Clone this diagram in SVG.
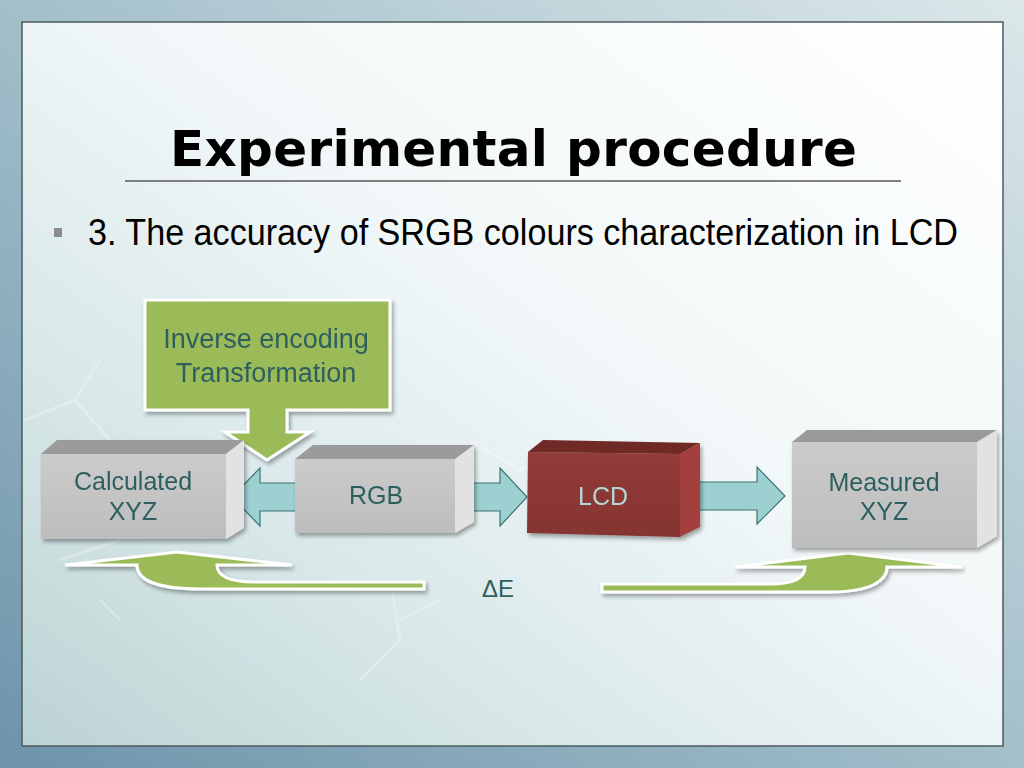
<svg xmlns="http://www.w3.org/2000/svg" width="1024" height="768" viewBox="0 0 1024 768">
<defs>
<linearGradient id="bgOuter" x1="0" y1="1" x2="1" y2="0">
<stop offset="0" stop-color="#6E93AA"/>
<stop offset="0.45" stop-color="#9DBBC7"/>
<stop offset="1" stop-color="#DCE8EA"/>
</linearGradient>
<linearGradient id="bgPanel" x1="1" y1="0" x2="0" y2="1">
<stop offset="0" stop-color="#FFFFFF"/>
<stop offset="0.45" stop-color="#F1F7F8"/>
<stop offset="0.75" stop-color="#D6E6E7"/>
<stop offset="1" stop-color="#BCD3D3"/>
</linearGradient>
<linearGradient id="grayFront" x1="0" y1="0" x2="0" y2="1">
<stop offset="0" stop-color="#CBCBCB"/>
<stop offset="1" stop-color="#BDBDBD"/>
</linearGradient>
<linearGradient id="redFront" x1="0" y1="0" x2="0" y2="1">
<stop offset="0" stop-color="#933C39"/>
<stop offset="1" stop-color="#853431"/>
</linearGradient>
<filter id="shadow" x="-10%" y="-10%" width="130%" height="140%">
<feGaussianBlur in="SourceAlpha" stdDeviation="2"/>
<feOffset dx="2" dy="3" result="b"/>
<feComponentTransfer><feFuncA type="linear" slope="0.35"/></feComponentTransfer>
<feMerge><feMergeNode/><feMergeNode in="SourceGraphic"/></feMerge>
</filter>
</defs>
<style>
.title{font-family:"DejaVu Sans",sans-serif;font-weight:bold;font-size:50px;fill:#000}
.body{font-family:"Liberation Sans",Arial,sans-serif;font-size:36px;fill:#000}
.lbl{font-family:"Liberation Sans",Arial,sans-serif;font-size:25px;fill:#2F5F5F;text-anchor:middle}
.glbl{font-family:"Liberation Sans",Arial,sans-serif;font-size:27px;fill:#2F5F5F;text-anchor:middle}
.lcd{font-family:"Liberation Sans",Arial,sans-serif;font-size:25px;fill:#B3D6D6;text-anchor:middle}
.gtop{fill:#9B9B9B}
.gside{fill:#E2E2E2}
.gfront{fill:url(#grayFront)}
.cyan{fill:#9CD0D1;stroke:#3C7375;stroke-width:1.2}
.green{fill:#9BBB59;stroke:#FFFFFF;stroke-width:3;stroke-linejoin:miter}
.mol{stroke:#FFFFFF;stroke-width:3;fill:none;opacity:0.25}
</style>

<rect x="0" y="0" width="1024" height="768" fill="url(#bgOuter)"/>
<rect x="22" y="22" width="981" height="724" fill="url(#bgPanel)" stroke="#4C5B5F" stroke-width="1.5"/>

<g id="background-texture">
<path class="mol" d="M25,420 L75,400 L100,360 M75,400 L110,440 M60,560 L120,540 L140,500 M470,440 L520,470 L560,450 M390,580 L400,640 L360,680 M120,620 L100,600 M400,620 L440,600"/>
</g>

<g id="title">
<text class="title" x="170" y="166" textLength="687" lengthAdjust="spacing">Experimental procedure</text>
<line x1="125" y1="181" x2="901" y2="181" stroke="#7F7F7F" stroke-width="2"/>
</g>

<g id="bullet">
<rect x="54" y="228" width="8" height="9" fill="#8C8C8C"/>
<text class="body" x="88" y="245" textLength="870" lengthAdjust="spacingAndGlyphs">3. The accuracy of SRGB colours characterization in LCD</text>
</g>

<g id="connectors">
<polygon class="cyan" points="232,497 260,468 260,483 297,483 297,511 260,511 260,526"/>
<polygon class="cyan" points="455,483 500,483 500,468 527,497 500,526 500,511 455,511"/>
<polygon class="cyan" points="697,482 757,482 757,467 785,496 757,524 757,510 697,510"/>
<g filter="url(#shadow)">
<path class="green" d="M65,565 L177,552 L292,565 H217 C217,575 228,582 255,582 H424 V589 H200 C160,589 137,581 137,565 Z"/>
<path class="green" d="M735,567 L848,553 L962,567 H887 C887,581 870,592 830,592 H602 V584 H770 C795,584 805,578 805,567 Z"/>
</g>
</g>

<g id="node-inverse" filter="url(#shadow)">
<path class="green" d="M145,300 H390 V410 H287 V432 H310 L267,460 L225,432 H248 V410 H145 Z"/>
<text class="glbl" x="266" y="348">Inverse encoding</text>
<text class="glbl" x="266" y="382">Transformation</text>
</g>

<g id="node-calculated" filter="url(#shadow)">
<polygon class="gtop" points="41,454 57,440 244,440 226,454"/>
<polygon class="gside" points="226,454 244,440 244,528 226,539"/>
<rect class="gfront" x="41" y="454" width="185" height="85"/>
<text class="lbl" x="133" y="490">Calculated</text>
<text class="lbl" x="133" y="520">XYZ</text>
</g>

<g id="node-rgb" filter="url(#shadow)">
<polygon class="gtop" points="295,459 313,445 474,445 455,459"/>
<polygon class="gside" points="455,459 474,445 474,522 455,533"/>
<rect class="gfront" x="295" y="459" width="160" height="74"/>
<text class="lbl" x="376" y="504">RGB</text>
</g>

<g id="node-lcd" filter="url(#shadow)">
<polygon fill="#6F2A28" points="528,452 543,440 700,443 680,454"/>
<polygon fill="#A3413E" points="680,454 700,443 700,527 680,537"/>
<polygon fill="url(#redFront)" points="528,452 680,454 680,537 527,533"/>
<text class="lcd" x="603" y="505">LCD</text>
</g>

<g id="node-measured" filter="url(#shadow)">
<polygon class="gtop" points="792,442 807,430 997,430 977,442"/>
<polygon class="gside" points="977,442 997,430 997,536 977,548"/>
<rect class="gfront" x="792" y="442" width="185" height="106"/>
<text class="lbl" x="884" y="491">Measured</text>
<text class="lbl" x="884" y="520">XYZ</text>
</g>

<g id="label-deltaE">
<text class="lbl" x="498" y="597" style="font-size:24px">ΔE</text>
</g>
</svg>
